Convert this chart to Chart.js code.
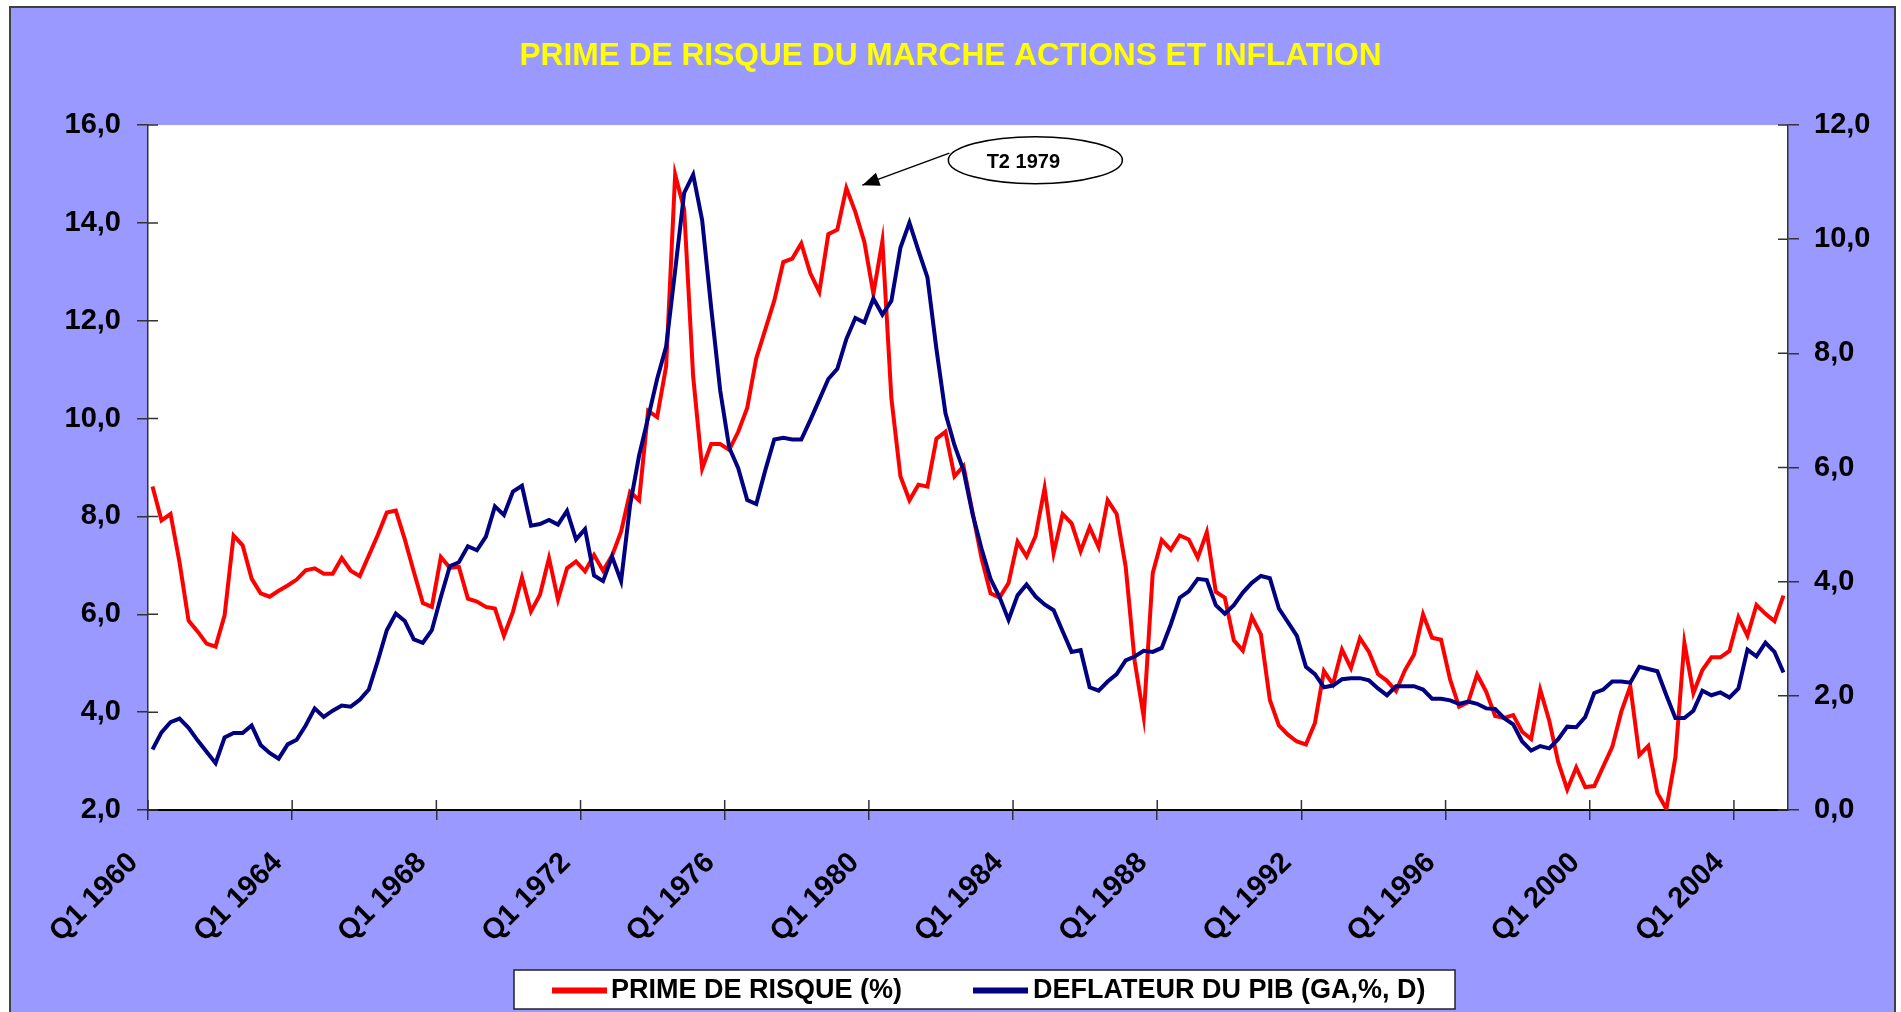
<!DOCTYPE html>
<html>
<head>
<meta charset="utf-8">
<title>Prime de risque du marché actions et inflation</title>
<script src="https://cdn.jsdelivr.net/npm/chart.js@4.4.1/dist/chart.umd.min.js"></script>
<style>
  html, body { margin: 0; padding: 0; background: #fff; overflow: hidden; width: 1901px; height: 1012px; }
  #frame { position: absolute; left: 9px; top: 6px; width: 1887px; height: 1100px; box-sizing: border-box;
           background: #9999ff; border: 2px solid #404040; border-bottom: none; }
  #wrap { position: absolute; left: 0; top: 0; width: 1901px; height: 1012px; }
</style>
</head>
<body>
<div id="frame"></div>
<div id="wrap"><canvas id="chart"></canvas></div>
<script>
// quarters Q1 1960 .. Q2 2005
const firstYear = 1960;
const nbQuarters = 182;
const quarterLabels = [];
for (let k = 0; k < nbQuarters; k++) {
  quarterLabels.push('Q' + (k % 4 + 1) + ' ' + (firstYear + Math.floor(k / 4)));
}

// PRIME DE RISQUE (%) - left axis
const primeRisque = [
  8.61, 7.92, 8.05, 7.06, 5.87, 5.65, 5.40, 5.34, 5.98, 7.61,
  7.41, 6.73, 6.43, 6.36, 6.48, 6.59, 6.71, 6.90, 6.94, 6.83,
  6.83, 7.15, 6.89, 6.78, 7.20, 7.62, 8.08, 8.12, 7.53, 6.87,
  6.23, 6.15, 7.17, 6.95, 6.97, 6.32, 6.26, 6.15, 6.12, 5.56,
  6.05, 6.75, 6.06, 6.40, 7.15, 6.30, 6.94, 7.08, 6.88, 7.21,
  6.89, 7.20, 7.69, 8.50, 8.33, 10.16, 10.03, 11.07, 14.99, 14.28,
  10.86, 8.98, 9.48, 9.48, 9.36, 9.73, 10.22, 11.23, 11.82, 12.41,
  13.20, 13.27, 13.58, 12.97, 12.59, 13.77, 13.86, 14.71, 14.22, 13.61,
  12.55, 13.63, 10.41, 8.82, 8.33, 8.65, 8.61, 9.59, 9.73, 8.82,
  9.03, 8.09, 7.15, 6.43, 6.34, 6.64, 7.48, 7.18, 7.60, 8.58,
  7.25, 8.05, 7.86, 7.29, 7.78, 7.37, 8.33, 8.05, 6.97, 5.04,
  3.90, 6.84, 7.52, 7.32, 7.61, 7.53, 7.16, 7.68, 6.46, 6.34,
  5.47, 5.26, 5.95, 5.59, 4.25, 3.73, 3.54, 3.40, 3.34, 3.78,
  4.84, 4.57, 5.28, 4.90, 5.51, 5.23, 4.78, 4.64, 4.43, 4.86,
  5.18, 6.00, 5.52, 5.48, 4.67, 4.11, 4.20, 4.77, 4.42, 3.92,
  3.88, 3.94, 3.60, 3.45, 4.46, 3.83, 2.98, 2.42, 2.87, 2.47,
  2.49, 2.89, 3.29, 4.01, 4.53, 3.12, 3.31, 2.35, 2.02, 3.07,
  5.42, 4.39, 4.86, 5.12, 5.12, 5.25, 5.94, 5.56, 6.19, 6.01,
  5.86, 6.38
];

// DEFLATEUR DU PIB (GA,%, D) - right axis
const deflateurPib = [
  1.06, 1.36, 1.54, 1.60, 1.44, 1.22, 1.02, 0.82, 1.27, 1.35,
  1.35, 1.48, 1.14, 1.00, 0.90, 1.15, 1.23, 1.48, 1.78, 1.63,
  1.74, 1.83, 1.81, 1.93, 2.11, 2.61, 3.15, 3.44, 3.31, 2.99,
  2.93, 3.15, 3.73, 4.27, 4.34, 4.62, 4.55, 4.79, 5.32, 5.17,
  5.58, 5.68, 4.98, 5.01, 5.08, 5.00, 5.24, 4.74, 4.92, 4.11,
  4.01, 4.44, 4.01, 5.34, 6.21, 6.87, 7.55, 8.12, 9.45, 10.81,
  11.13, 10.33, 8.80, 7.35, 6.35, 5.99, 5.43, 5.36, 5.95, 6.49,
  6.52, 6.49, 6.49, 6.83, 7.19, 7.55, 7.73, 8.25, 8.62, 8.54,
  8.96, 8.68, 8.92, 9.85, 10.29, 9.80, 9.33, 8.07, 6.95, 6.39,
  5.95, 5.19, 4.58, 4.05, 3.73, 3.33, 3.76, 3.95, 3.74, 3.60,
  3.50, 3.13, 2.77, 2.80, 2.15, 2.09, 2.25, 2.38, 2.62, 2.69,
  2.79, 2.77, 2.84, 3.25, 3.72, 3.83, 4.05, 4.03, 3.59, 3.44,
  3.59, 3.81, 3.98, 4.10, 4.06, 3.53, 3.29, 3.05, 2.51, 2.38,
  2.15, 2.18, 2.29, 2.31, 2.31, 2.27, 2.13, 2.01, 2.17, 2.17,
  2.17, 2.11, 1.95, 1.95, 1.92, 1.86, 1.90, 1.86, 1.78, 1.77,
  1.61, 1.50, 1.20, 1.04, 1.12, 1.08, 1.24, 1.46, 1.45, 1.63,
  2.05, 2.11, 2.25, 2.25, 2.23, 2.51, 2.47, 2.43, 2.01, 1.61,
  1.61, 1.74, 2.09, 2.01, 2.06, 1.97, 2.13, 2.81, 2.69, 2.93,
  2.77, 2.41
];

const seriesNames = ['PRIME DE RISQUE (%)', 'DEFLATEUR DU PIB (GA,%, D)'];
const seriesColors = ['#ff0000', '#000080'];
const annotationLabel = 'T2 1979';
const annotationQuarter = 'Q2 1979';

const FONT = "'Liberation Sans', Arial, sans-serif";
const fmt = v => v.toFixed(1).replace('.', ',');

// white plot area
const plotBackground = {
  id: 'plotBackground',
  beforeDraw(chart) {
    const { ctx, chartArea: a } = chart;
    ctx.save();
    ctx.fillStyle = '#ffffff';
    ctx.fillRect(a.left, a.top, a.right - a.left, a.bottom - a.top);
    ctx.restore();
  }
};

// inner half of the tick marks (ticks cross the axes in the original)
const crossTicks = {
  id: 'crossTicks',
  beforeDatasetsDraw(chart) {
    const { ctx, chartArea: a, scales } = chart;
    ctx.save();
    ctx.strokeStyle = '#333';
    ctx.lineWidth = 1.5;
    ctx.beginPath();
    scales.y.ticks.forEach(t => {
      const p = scales.y.getPixelForValue(t.value);
      ctx.moveTo(a.left, p); ctx.lineTo(a.left + 10, p);
    });
    scales.y1.ticks.forEach(t => {
      const p = scales.y1.getPixelForValue(t.value);
      ctx.moveTo(a.right, p); ctx.lineTo(a.right - 10, p);
    });
    const step = scales.x.getPixelForValue(1) - scales.x.getPixelForValue(0);
    quarterLabels.forEach((q, i) => {
      if (i % 16 !== 0) return;
      const p = scales.x.getPixelForValue(i) - step / 2;
      ctx.moveTo(p, a.bottom); ctx.lineTo(p, a.bottom - 10);
    });
    ctx.stroke();
    ctx.restore();
  }
};

// callout pointing to the T2 1979 peak
const callout = {
  id: 'callout',
  afterDraw(chart) {
    const { ctx, scales } = chart;
    const idx = quarterLabels.indexOf(annotationQuarter);
    const px = scales.x.getPixelForValue(idx);
    const py = scales.y.getPixelForValue(primeRisque[idx]);
    const tip = { x: px + 16, y: py - 3 };
    const tail = { x: px + 103, y: py - 35 };
    const cx = px + 189, cy = py - 28;

    ctx.save();
    ctx.strokeStyle = '#000';
    ctx.fillStyle = '#000';
    ctx.lineWidth = 1.5;
    ctx.beginPath();
    ctx.moveTo(tail.x, tail.y);
    ctx.lineTo(tip.x, tip.y);
    ctx.stroke();
    // arrow head
    const ang = Math.atan2(tip.y - tail.y, tip.x - tail.x);
    const len = 17, half = 7;
    ctx.beginPath();
    ctx.moveTo(tip.x, tip.y);
    ctx.lineTo(tip.x - len * Math.cos(ang) - half * Math.sin(ang), tip.y - len * Math.sin(ang) + half * Math.cos(ang));
    ctx.lineTo(tip.x - len * Math.cos(ang) + half * Math.sin(ang), tip.y - len * Math.sin(ang) - half * Math.cos(ang));
    ctx.closePath();
    ctx.fill();
    // ellipse
    ctx.beginPath();
    ctx.ellipse(cx, cy, 87, 23.5, 0, 0, Math.PI * 2);
    ctx.fillStyle = '#fff';
    ctx.fill();
    ctx.stroke();
    ctx.fillStyle = '#000';
    ctx.font = 'bold 20px ' + FONT;
    ctx.textAlign = 'center';
    ctx.textBaseline = 'middle';
    ctx.fillText(annotationLabel, cx - 12, cy + 2);
    ctx.restore();
  }
};

// legend in a white box at the bottom
const legendBox = {
  id: 'legendBox',
  afterDraw(chart) {
    const ctx = chart.ctx;
    const box = { x: 514, y: 970, w: 941, h: 39 };
    const items = [
      { line: 552, text: 611 },
      { line: 973, text: 1033 }
    ];
    const my = box.y + box.h / 2 + 1;
    ctx.save();
    ctx.fillStyle = '#fff';
    ctx.fillRect(box.x, box.y, box.w, box.h);
    ctx.strokeStyle = '#222';
    ctx.lineWidth = 1.5;
    ctx.strokeRect(box.x, box.y, box.w, box.h);
    ctx.font = 'bold 27px ' + FONT;
    ctx.textBaseline = 'middle';
    ctx.textAlign = 'left';
    items.forEach((it, i) => {
      ctx.fillStyle = seriesColors[i];
      ctx.fillRect(it.line, my - 3, 55, 6);
      ctx.fillStyle = '#000';
      ctx.fillText(seriesNames[i], it.text, my);
    });
    ctx.restore();
  }
};

new Chart(document.getElementById('chart'), {
  type: 'line',
  data: {
    labels: quarterLabels,
    datasets: [
      {
        label: seriesNames[0],
        data: primeRisque,
        yAxisID: 'y',
        borderColor: seriesColors[0],
        backgroundColor: seriesColors[0],
        borderWidth: 4,
        pointRadius: 0,
        tension: 0,
        fill: false,
        order: 2,
      },
      {
        label: seriesNames[1],
        data: deflateurPib,
        yAxisID: 'y1',
        borderColor: seriesColors[1],
        backgroundColor: seriesColors[1],
        borderWidth: 4,
        pointRadius: 0,
        tension: 0,
        fill: false,
        order: 1,
      },
    ],
  },
  options: {
    responsive: true,
    maintainAspectRatio: false,
    devicePixelRatio: 1,
    animation: false,
    layout: { padding: 0 },
    plugins: {
      legend: { display: false },
      tooltip: { enabled: false },
      title: {
        display: true,
        text: 'PRIME DE RISQUE DU MARCHE ACTIONS ET INFLATION',
        color: '#ffff00',
        font: { family: FONT, size: 31.7, weight: 'bold' },
        padding: { top: 37, bottom: 50 },
      },
    },
    scales: {
      x: {
        type: 'category',
        offset: true,
        grid: {
          offset: true,
          drawOnChartArea: false,
          drawTicks: true,
          tickLength: 10,
          lineWidth: 1.5,
          tickColor: ctx => (ctx.index % 16 === 0 ? '#333' : 'rgba(0,0,0,0)'),
        },
        border: { color: '#000', width: 2 },
        ticks: {
          autoSkip: false,
          minRotation: 45,
          maxRotation: 45,
          padding: 26,
          labelOffset: -19,
          color: '#000',
          font: { family: FONT, size: 29, weight: 'bold' },
          callback: (value, index) => (index % 16 === 0 ? quarterLabels[index] : ''),
        },
        afterFit: s => { s.height = 202; },
      },
      y: {
        position: 'left',
        min: 2,
        max: 16,
        grid: { drawOnChartArea: false, tickLength: 11, tickColor: '#333', lineWidth: 1.5 },
        border: { color: '#333', width: 1.5 },
        ticks: {
          stepSize: 2,
          padding: 16,
          color: '#000',
          font: { family: FONT, size: 29, weight: 'bold' },
          callback: v => fmt(v),
        },
        afterFit: s => { s.width = 148; },
      },
      y1: {
        position: 'right',
        min: 0,
        max: 12,
        grid: { drawOnChartArea: false, tickLength: 11, tickColor: '#333', lineWidth: 1.5 },
        border: { color: '#333', width: 1.5 },
        ticks: {
          stepSize: 2,
          padding: 15,
          color: '#000',
          font: { family: FONT, size: 29, weight: 'bold' },
          callback: v => fmt(v),
        },
        afterFit: s => { s.width = 113; },
      },
    },
  },
  plugins: [plotBackground, crossTicks, callout, legendBox],
});
</script>
</body>
</html>
